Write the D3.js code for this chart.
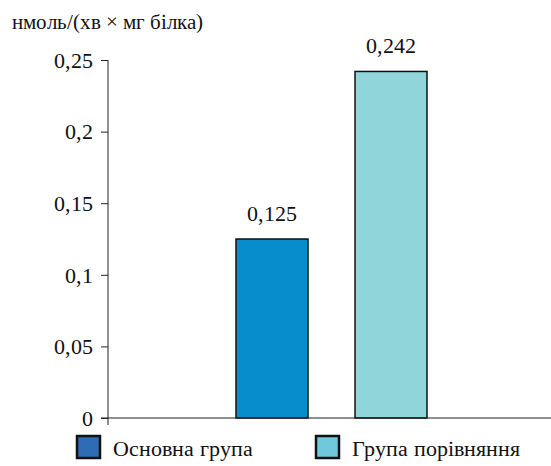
<!DOCTYPE html>
<html><head><meta charset="utf-8">
<script src="https://cdn.jsdelivr.net/npm/d3@7"></script>
<style>
  @font-face { font-family: "ChartSerif"; src: local("Liberation Serif"), local("LiberationSerif"), local("Liberation Serif Regular"), local("LiberationSerif-Regular"); }
</style>
</head>
<body style="margin:0">
<svg id="plot" width="551" height="466" font-family="ChartSerif, Liberation Serif, serif"></svg>
<script>
// Activity of the two groups
const groups = ["Основна група", "Група порівняння"];
const values = [0.125, 0.242];
const valueLabels = ["0,125", "0,242"];
const barColors = ["#088dcc", "#90d5da"];
const legendColors = ["#2e6db4", "#6fc8dc"];
const yTicks = [0, 0.05, 0.1, 0.15, 0.2, 0.25];
const yTickLabels = ["0", "0,05", "0,1", "0,15", "0,2", "0,25"];
const unitLabel = "нмоль/(хв × мг білка)";

const FONT = "ChartSerif, Liberation Serif, serif";
const svg = d3.select("#plot");

const axisX = 108;
const y = d3.scaleLinear().domain([0, 0.25]).range([418, 60]);
const x = d3.scaleBand().domain(groups).range([176.5, 486.5]).paddingInner(0.395).paddingOuter(0.5);

// unit caption
svg.append("text")
  .attr("x", 12).attr("y", 29)
  .attr("font-size", 21)
  .attr("font-family", FONT)
  .attr("fill", "#111")
  .text(unitLabel);

// y axis
const yAxis = d3.axisLeft(y)
  .tickValues(yTicks)
  .tickFormat((d, i) => yTickLabels[i])
  .tickSize(7)
  .tickPadding(8);
const gy = svg.append("g")
  .attr("transform", `translate(${axisX},0)`)
  .call(yAxis)
  .attr("font-family", FONT)
  .attr("font-size", 22);
gy.select(".domain").remove();
gy.selectAll(".tick line").attr("stroke", "#222").attr("stroke-width", 1);
gy.selectAll(".tick text")
  .attr("font-family", FONT)
  .attr("font-size", 22)
  .attr("fill", "#111")
  .attr("dy", "0.33em");

svg.append("line")
  .attr("x1", axisX).attr("x2", axisX)
  .attr("y1", y(0.25)).attr("y2", y(0) + 7)
  .attr("stroke", "#222").attr("stroke-width", 1);

// bars
svg.selectAll("rect.bar")
  .data(values)
  .join("rect")
  .attr("class", "bar")
  .attr("x", (d, i) => x(groups[i]))
  .attr("width", x.bandwidth())
  .attr("y", d => y(d))
  .attr("height", d => y(0) - y(d))
  .attr("fill", (d, i) => barColors[i])
  .attr("stroke", "#111")
  .attr("stroke-width", 1.5);

// value labels
svg.selectAll("text.val")
  .data(values)
  .join("text")
  .attr("class", "val")
  .attr("x", (d, i) => x(groups[i]) + x.bandwidth() / 2)
  .attr("y", d => y(d) - 18)
  .attr("text-anchor", "middle")
  .attr("font-family", FONT)
  .attr("font-size", 22)
  .attr("fill", "#111")
  .text((d, i) => valueLabels[i]);

// baseline
svg.append("line")
  .attr("x1", axisX - 7).attr("x2", 551)
  .attr("y1", y(0)).attr("y2", y(0))
  .attr("stroke", "#222").attr("stroke-width", 1);

// legend
const legendX = [77, 316];
const lg = svg.selectAll("g.leg")
  .data(groups)
  .join("g")
  .attr("class", "leg")
  .attr("transform", (d, i) => `translate(${legendX[i]},436)`);
lg.append("rect")
  .attr("width", 23).attr("height", 22)
  .attr("fill", (d, i) => legendColors[i])
  .attr("stroke", "#111")
  .attr("stroke-width", 2.5);
lg.append("text")
  .attr("x", 36).attr("y", 20)
  .attr("font-family", FONT)
  .attr("font-size", 22)
  .attr("fill", "#111")
  .text(d => d);
</script>
</body></html>
